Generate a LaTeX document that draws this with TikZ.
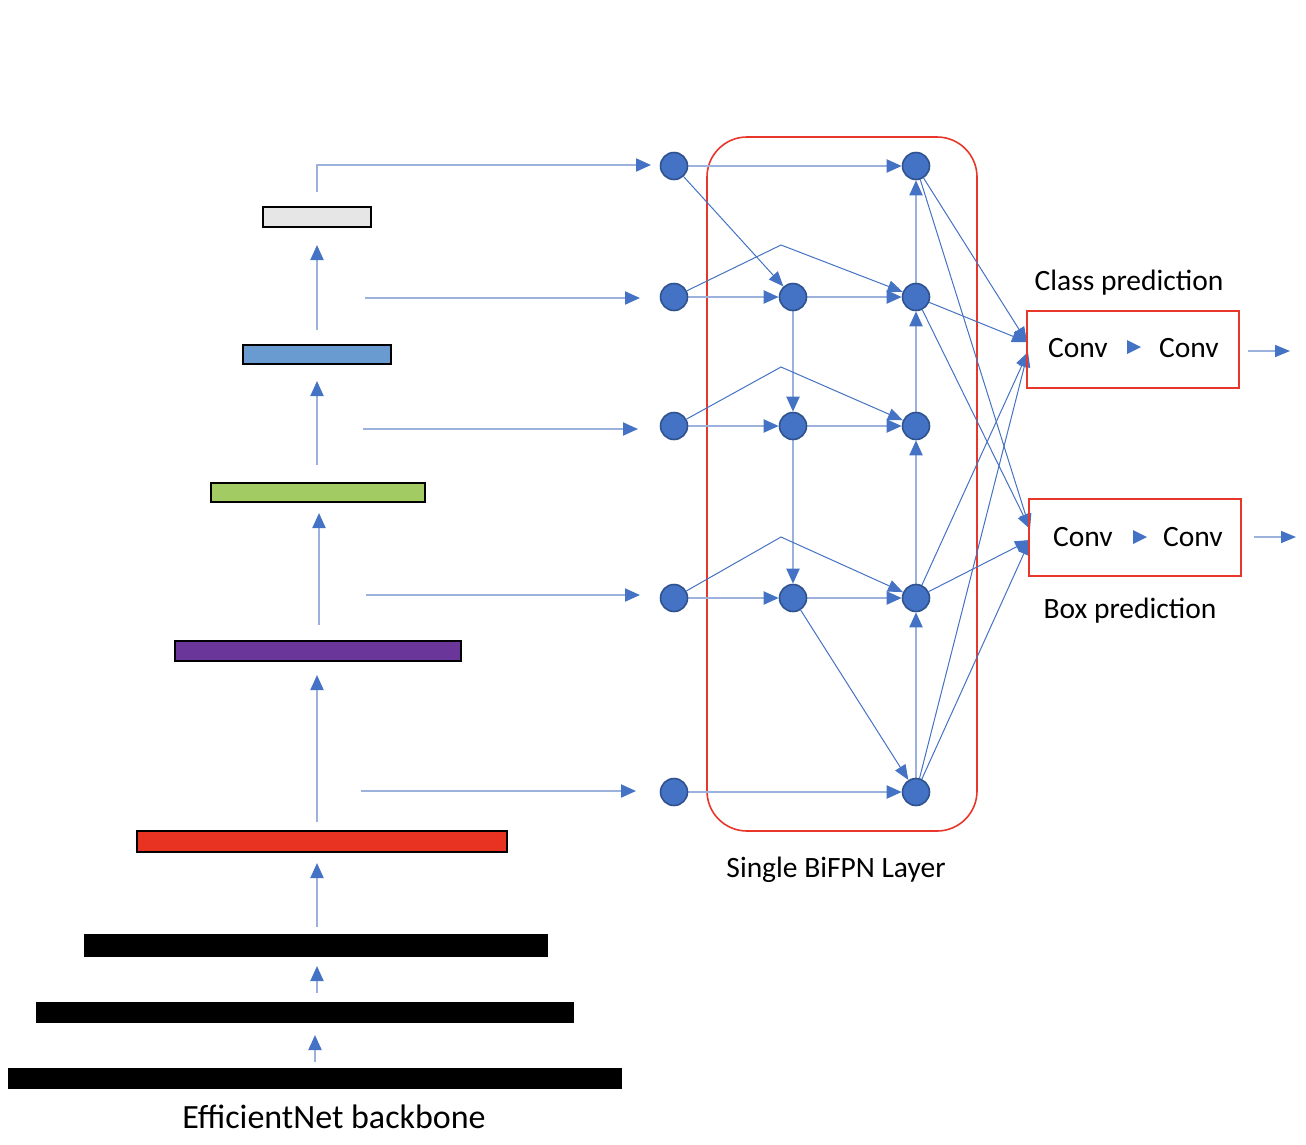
\documentclass[tikz,border=0pt]{standalone}
\usepackage{fontspec}
\setmainfont{Carlito}
\usetikzlibrary{arrows.meta}
\definecolor{arrowblue}{HTML}{4472C4}
\definecolor{lineblue}{HTML}{9CB2DD}
\definecolor{nodeborder}{HTML}{2F528F}
\definecolor{redc}{HTML}{E8362A}
\definecolor{greyfill}{HTML}{E7E6E6}
\definecolor{bluefill}{HTML}{6A9BD0}
\definecolor{greenfill}{HTML}{A2CC63}
\definecolor{purplefill}{HTML}{6A3699}
\definecolor{redfill}{HTML}{E83323}
\pgfdeclarelayer{bg}
\pgfsetlayers{bg,main}
\tikzset{
  thickarr/.style={draw=lineblue, line width=2pt, -{Triangle[length=15pt,width=13pt,color=arrowblue]}},
  thinarr/.style={draw=arrowblue, line width=1pt, -{Triangle[length=15pt,width=12pt]}},
  outarr/.style={draw=lineblue, line width=1.6pt, -{Triangle[length=15pt,width=12pt,color=arrowblue]}},
  bnode/.style={circle, fill=arrowblue, draw=nodeborder, line width=1.6pt, minimum size=27pt, inner sep=0pt},
  bar/.style={rectangle, draw=black, line width=1.6pt, inner sep=0pt},
  blackbar/.style={rectangle, fill=black, inner sep=0pt},
  redbox/.style={rectangle, draw=redc, line width=1.6pt, inner sep=0pt, minimum width=212pt, minimum height=77pt},
  lbl/.style={font=\fontsize{29.5}{33}\selectfont, inner sep=0pt},
}
\begin{document}
\begin{tikzpicture}[x=1pt, y=-1pt]
\useasboundingbox (0,0) rectangle (1306,1144);
% ---- backbone bars
\node[bar, fill=greyfill, minimum width=108pt, minimum height=20pt] (grey) at (317,217) {};
\node[bar, fill=bluefill, minimum width=148pt, minimum height=19pt] (blue) at (317,354.5) {};
\node[bar, fill=greenfill, minimum width=214pt, minimum height=19pt] (green) at (318,492.5) {};
\node[bar, fill=purplefill, minimum width=286pt, minimum height=20pt] (purple) at (318,651) {};
\node[bar, fill=redfill, minimum width=370pt, minimum height=21pt] (red) at (322,841.5) {};
\node[blackbar, minimum width=464pt, minimum height=23pt] (blk1) at (316,945.5) {};
\node[blackbar, minimum width=538pt, minimum height=21pt] (blk2) at (305,1012.5) {};
\node[blackbar, minimum width=614pt, minimum height=21pt] (blk3) at (315,1078.5) {};
\node[font=\fontsize{34}{38}\selectfont, inner sep=0pt] (bbtxt) at (334,1117) {EfficientNet backbone};

% ---- free ends of the backbone arrows
\coordinate (u1s) at (317,330);  \coordinate (u1e) at (317,245);
\coordinate (u2s) at (317,465);  \coordinate (u2e) at (317,381);
\coordinate (u3s) at (319,625);  \coordinate (u3e) at (319,513);
\coordinate (u4s) at (317,822);  \coordinate (u4e) at (317,675);
\coordinate (u5s) at (317,927);  \coordinate (u5e) at (317,863);
\coordinate (u6s) at (317,993);  \coordinate (u6e) at (317,966);
\coordinate (u7s) at (315,1062); \coordinate (u7e) at (315,1035);
\coordinate (h1s) at (317,192);  \coordinate (h1e) at (651,165);
\coordinate (h2s) at (365,298);  \coordinate (h2e) at (640,298);
\coordinate (h3s) at (363,429);  \coordinate (h3e) at (638,429);
\coordinate (h4s) at (366,595);  \coordinate (h4e) at (640,595);
\coordinate (h5s) at (361,791);  \coordinate (h5e) at (636,791);

% ---- BiFPN nodes
\node[bnode] (A1) at (674,166) {};
\node[bnode] (A2) at (674,297) {};
\node[bnode] (A3) at (674,426) {};
\node[bnode] (A4) at (674,598) {};
\node[bnode] (A5) at (674,792) {};
\node[bnode] (B2) at (793,297) {};
\node[bnode] (B3) at (793,426) {};
\node[bnode] (B4) at (793,598) {};
\node[bnode] (C1) at (916,166) {};
\node[bnode] (C2) at (916,297) {};
\node[bnode] (C3) at (916,426) {};
\node[bnode] (C4) at (916,598) {};
\node[bnode] (C5) at (916,792) {};
\coordinate (p2) at (781,245);
\coordinate (p3) at (781,367);
\coordinate (p4) at (781,537);

\node[lbl] (layertxt) at (836,870) {Single BiFPN Layer};

% ---- prediction heads
\node[redbox] (cls) at (1133,349.5) {};
\node[redbox] (box) at (1135,537.5) {};
\node[lbl] (clsA) at (1078,348) {Conv};
\node[lbl] (clsB) at (1189,348) {Conv};
\node[lbl] (boxA) at (1083,537) {Conv};
\node[lbl] (boxB) at (1193,537) {Conv};
\node[lbl] (clstxt) at (1129,283) {Class prediction};
\node[lbl] (boxtxt) at (1130,611) {Box prediction};
\fill[arrowblue] (1127,340) -- (1141,347) -- (1127,354) -- cycle;
\fill[arrowblue] (1133,530) -- (1147,537) -- (1133,544) -- cycle;
\coordinate (ci1) at (1027,342);
\coordinate (ci2) at (1028,352);
\coordinate (bi1) at (1030,529);
\coordinate (bi2) at (1030,540);
\coordinate (co1s) at (1248,351); \coordinate (co1e) at (1290,351);
\coordinate (bo1s) at (1254,537); \coordinate (bo1e) at (1296,537);

\begin{pgfonlayer}{bg}
\node[draw=redc, line width=1.6pt, rounded corners=40pt, minimum width=270pt, minimum height=694pt, inner sep=0pt] (layer) at (842,484) {};
% backbone arrows
\draw[thickarr] (u1s) -- (u1e);
\draw[thickarr] (u2s) -- (u2e);
\draw[thickarr] (u3s) -- (u3e);
\draw[thickarr] (u4s) -- (u4e);
\draw[thickarr] (u5s) -- (u5e);
\draw[thickarr] (u6s) -- (u6e);
\draw[thickarr] (u7s) -- (u7e);
\draw[thickarr] (h1s) |- (h1e);
\draw[thickarr] (h2s) -- (h2e);
\draw[thickarr] (h3s) -- (h3e);
\draw[thickarr] (h4s) -- (h4e);
\draw[thickarr] (h5s) -- (h5e);
% BiFPN
\draw[thickarr] (A1) -- (C1);
\draw[thickarr] (A2) -- (B2);
\draw[thickarr] (B2) -- (C2);
\draw[thickarr] (A3) -- (B3);
\draw[thickarr] (B3) -- (C3);
\draw[thickarr] (A4) -- (B4);
\draw[thickarr] (B4) -- (C4);
\draw[thickarr] (A5) -- (C5);
\draw[thickarr] (B2) -- (B3);
\draw[thickarr] (B3) -- (B4);
\draw[thickarr] (C5) -- (C4);
\draw[thickarr] (C4) -- (C3);
\draw[thickarr] (C3) -- (C2);
\draw[thickarr] (C2) -- (C1);
\draw[thinarr] (A1) -- (B2);
\draw[thinarr] (B4) -- (C5);
\draw[thinarr] (A2) -- (p2) -- (C2);
\draw[thinarr] (A3) -- (p3) -- (C3);
\draw[thinarr] (A4) -- (p4) -- (C4);
% to heads
\draw[thinarr] (C1) -- (ci1);
\draw[thinarr] (C2) -- (ci1);
\draw[thinarr] (C4) -- (ci2);
\draw[thinarr] (C5) -- (ci2);
\draw[thinarr] (C1) -- (bi1);
\draw[thinarr] (C2) -- (bi1);
\draw[thinarr] (C4) -- (bi2);
\draw[thinarr] (C5) -- (bi2);
\draw[outarr] (co1s) -- (co1e);
\draw[outarr] (bo1s) -- (bo1e);
\end{pgfonlayer}
\end{tikzpicture}
\end{document}
